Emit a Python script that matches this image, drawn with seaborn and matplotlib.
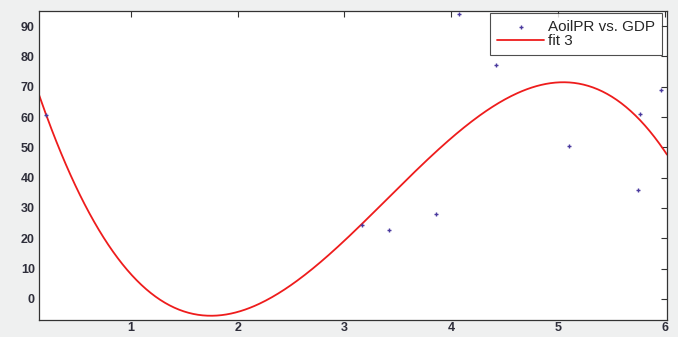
import numpy as np
import pandas as pd
import matplotlib
matplotlib.use("Agg")
import matplotlib.pyplot as plt
import seaborn as sns

# Data points (AoilPR vs. GDP)
gdp = [0.21, 3.16, 3.42, 3.86, 4.07, 4.42, 5.10, 5.75, 5.77, 5.96]
aoilpr = [60.7, 24.2, 22.8, 28.0, 94.0, 77.2, 50.4, 35.9, 60.9, 68.9]

# Cubic fit coefficients (fit 3), highest degree first
fit_coeffs = [-4.29, 43.758, -113.74, 82.43]
x_range = [0.14, 6.02]
y_range = [-7, 95]
x_ticks = [1, 2, 3, 4, 5, 6]
y_ticks = [0, 10, 20, 30, 40, 50, 60, 70, 80, 90]

sns.set_style("white")
plt.rcParams['font.family'] = ['Liberation Sans', 'DejaVu Sans']

fig = plt.figure(figsize=(6.78, 3.37), dpi=100, facecolor='#eff0f0')
ax = fig.add_axes([39/678, 1-320/337, (667-39)/678, (320-11)/337])
ax.set_facecolor('white')

pts = pd.DataFrame({'GDP': gdp, 'AoilPR': aoilpr})
xs = np.linspace(x_range[0], x_range[1], 400)
fit_df = pd.DataFrame({'x': xs, 'y': np.polyval(fit_coeffs, xs)})

sns.scatterplot(data=pts, x='GDP', y='AoilPR', ax=ax, marker='+', s=10,
                color='#4a3a9e', linewidth=1.0, label='AoilPR vs. GDP', zorder=3)
sns.lineplot(data=fit_df, x='x', y='y', ax=ax, color='#ee1c1c', linewidth=1.3,
             label='fit 3', zorder=2)

ax.set_xlim(*x_range)
ax.set_ylim(*y_range)
ax.set_xticks(x_ticks)
ax.set_yticks(y_ticks)
ax.set_xlabel('')
ax.set_ylabel('')
ax.tick_params(direction='in', length=4, width=0.8, top=True, right=True,
               labelsize=9, labelcolor='#2e2e3a', color='#333333')
ax.tick_params(axis='x', pad=1.5)
ax.tick_params(axis='y', pad=3)
for lab in ax.get_xticklabels() + ax.get_yticklabels():
    lab.set_fontweight('bold')
for s in ax.spines.values():
    s.set_color('#333333')
    s.set_linewidth(0.9)

leg = ax.legend(loc='upper right', bbox_to_anchor=(1 - 5/628, 1 - 2/309),
                borderaxespad=0, fontsize=11, frameon=True, fancybox=False,
                edgecolor='#222222', handlelength=3.1, handletextpad=0.25,
                borderpad=0.45, labelspacing=0.02)
leg.get_frame().set_linewidth(0.8)

fig.savefig('out.png', dpi=100, facecolor=fig.get_facecolor())
